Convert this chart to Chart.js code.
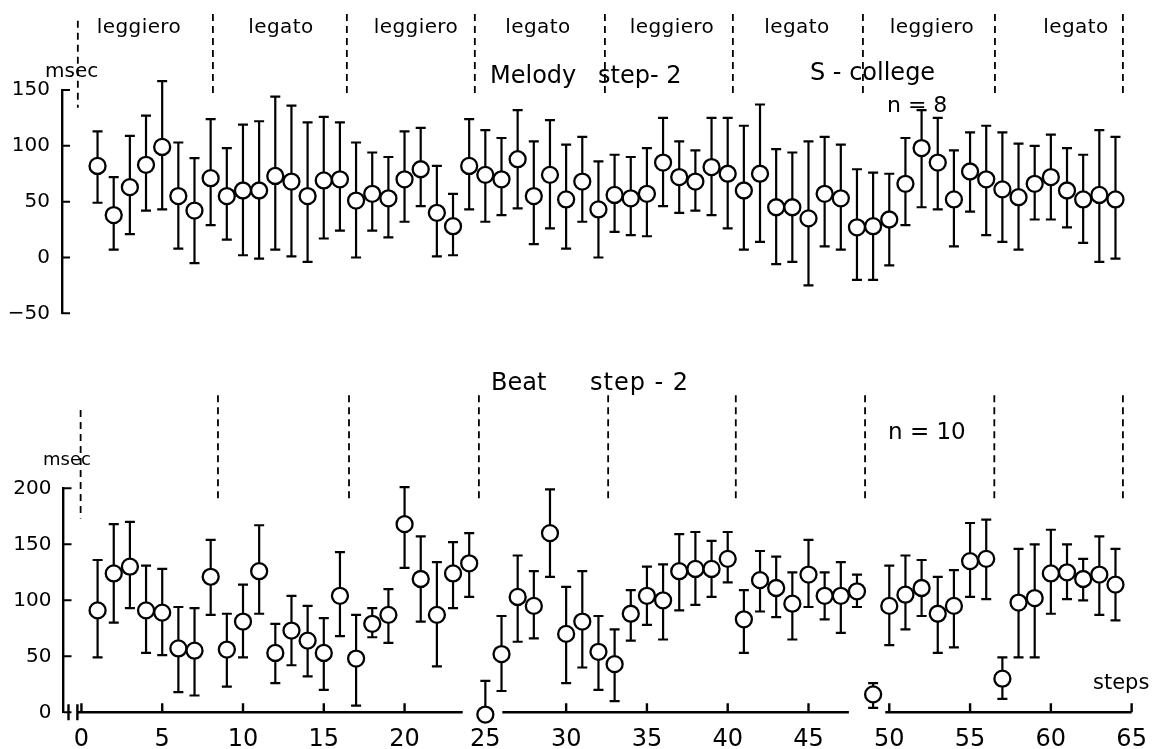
<!DOCTYPE html>
<html>
<head>
<meta charset="utf-8">
<script src="https://cdn.jsdelivr.net/npm/chart.js@4.4.0/dist/chart.umd.min.js"></script>
<style>
  body { margin: 0; background: #fff; width: 1161px; height: 749px; overflow: hidden; position: relative;
         font-family: "DejaVu Sans", sans-serif; color: #000; }
  canvas { position: absolute; left: 0; }
  #top { top: 0; }
  #bottom { top: 345px; }
  .t { position: absolute; white-space: pre; line-height: 1; }
  .c { transform: translateX(-50%); letter-spacing: 0.4px; }
</style>
</head>
<body>
<canvas id="top" width="1161" height="345"></canvas>
<canvas id="bottom" width="1161" height="404"></canvas>

<!-- section labels -->
<div class="t c" style="left:139px;top:16px;font-size:20px">leggiero</div>
<div class="t c" style="left:281px;top:16px;font-size:20px">legato</div>
<div class="t c" style="left:416px;top:16px;font-size:20px">leggiero</div>
<div class="t c" style="left:538px;top:16px;font-size:20px">legato</div>
<div class="t c" style="left:672px;top:16px;font-size:20px">leggiero</div>
<div class="t c" style="left:797px;top:16px;font-size:20px">legato</div>
<div class="t c" style="left:932px;top:16px;font-size:20px">leggiero</div>
<div class="t c" style="left:1076px;top:16px;font-size:20px">legato</div>

<div class="t" style="left:45px;top:60px;font-size:20px">msec</div>
<div class="t" style="left:490px;top:63px;font-size:24px">Melody</div>
<div class="t" style="left:598px;top:63px;font-size:24px">step- 2</div>
<div class="t" style="left:810px;top:60px;font-size:24px">S - college</div>
<div class="t" style="left:887px;top:94px;font-size:22px">n = 8</div>

<div class="t" style="left:43px;top:450px;font-size:18px">msec</div>
<div class="t" style="left:491px;top:370px;font-size:24px">Beat</div>
<div class="t" style="left:590px;top:370px;font-size:24px;letter-spacing:1px">step - 2</div>
<div class="t" style="left:888px;top:420px;font-size:23px">n = 10</div>
<div class="t" style="left:1093px;top:672px;font-size:21px">steps</div>

<script>
// steps (x categories)
const steps = [1,2,3,4,5,6,7,8,9,10,11,12,13,14,15,16,17,18,19,20,21,22,23,24,25,26,27,28,29,30,31,32,
  33,34,35,36,37,38,39,40,41,42,43,44,45,46,47,48,49,50,51,52,53,54,55,56,57,58,59,60,61,62,63,64];

// Melody step-2 (msec): mean, upper and lower end of the bar
const melodyMean = [82,38,63,83,99,55,42,71,55,60,60,73,68,55,69,70,51,57,53,70,79,40,28,82,74,70,88,55,74,52,68,43,
  56,53,57,85,72,68,81,75,60,75,45,45,35,57,53,27,28,34,66,98,85,52,77,70,61,54,66,72,60,52,56,52];
const melodyHigh = [113,72,109,127,158,103,89,124,98,119,122,144,136,121,126,121,103,94,90,113,116,82,57,124,114,107,132,104,123,101,108,86,
  92,90,98,125,104,96,125,125,118,137,97,94,104,108,101,79,76,75,107,132,125,96,112,118,112,102,100,110,98,92,114,108];
const melodyLow = [49,7,21,42,43,8,-5,29,16,2,-1,7,1,-4,17,24,0,24,18,32,46,1,2,43,32,38,44,12,26,8,32,0,
  23,20,19,46,40,42,38,26,7,14,-6,-4,-25,10,7,-20,-20,-7,29,45,43,10,41,20,14,7,34,34,27,13,-4,-1];

// Beat step-2 (msec)
const beatMean = [91,124,130,91,89,57,55,121,56,81,126,53,73,64,53,104,48,79,87,168,119,87,124,133,-2,52,103,95,160,70,81,54,
  43,88,104,100,126,128,128,137,83,118,111,97,123,104,104,108,16,95,105,111,88,95,135,137,30,98,102,124,125,119,123,114];
const beatHigh = [136,168,170,131,128,94,93,154,88,114,167,79,104,95,84,143,87,93,110,201,157,134,152,160,28,86,140,126,199,112,126,86,
  74,109,130,132,159,161,153,161,109,144,139,125,154,125,134,123,26,131,140,136,121,127,169,172,49,146,150,163,150,137,157,146];
const beatLow = [49,80,93,53,51,18,15,87,23,49,88,26,42,32,20,68,6,67,62,129,81,41,93,103,null,19,63,66,121,26,40,20,
  10,64,78,65,91,96,103,116,53,90,85,65,94,83,71,94,4,60,74,86,53,58,103,101,12,49,49,88,101,100,87,82];

// tick labels
const melodyTicks = [-50, 0, 50, 100, 150];
const beatTicks = [0, 50, 100, 150, 200];
const stepTicks = [0, 5, 10, 15, 20, 25, 30, 35, 40, 45, 50, 55, 60, 65];

// dashed section dividers (in steps)
const melodyDividers = [-0.22, 8.14, 16.43, 24.35, 32.4, 40.32, 48.37, 56.54, 64.46];
const beatDividers = [-0.05, 8.45, 16.56, 24.6, 32.6, 40.5, 48.5, 56.5, 64.46];
// the bottom step axis is drawn in broken pieces
const axisPieces = [[-0.2, 23.6], [26.05, 47.5], [49.75, 65]];

Chart.defaults.font.family = '"DejaVu Sans", sans-serif';
Chart.defaults.color = '#000';

const errorBars = {
  id: 'errorBars',
  beforeDatasetsDraw(chart, args, opts) {
    const { ctx, scales: { x, y } } = chart;
    ctx.save();
    ctx.strokeStyle = '#000';
    ctx.lineWidth = 2.2;
    opts.high.forEach((hi, i) => {
      const px = x.getPixelForValue(steps[i]);
      const top = y.getPixelForValue(hi);
      const lo = opts.low[i];
      const bot = y.getPixelForValue(lo == null ? opts.mean[i] : lo);
      ctx.beginPath();
      ctx.moveTo(px, top); ctx.lineTo(px, bot);
      ctx.moveTo(px - 5, top); ctx.lineTo(px + 5, top);
      if (lo != null) { ctx.moveTo(px - 5, bot); ctx.lineTo(px + 5, bot); }
      ctx.stroke();
    });
    ctx.restore();
  }
};

const frame = {
  id: 'frame',
  afterDraw(chart, args, opts) {
    const { ctx, chartArea, scales: { x, y } } = chart;
    ctx.save();
    ctx.strokeStyle = '#000';
    // small ticks pointing into the plot
    ctx.lineWidth = 2;
    ctx.beginPath();
    opts.yTicks.forEach(v => {
      const py = y.getPixelForValue(v);
      ctx.moveTo(chartArea.left, py); ctx.lineTo(chartArea.left + 8, py);
    });
    ctx.stroke();
    // dashed dividers
    ctx.lineWidth = 1.8;
    ctx.setLineDash([7, 5]);
    ctx.beginPath();
    opts.dividers.forEach((d, i) => {
      const px = x.getPixelForValue(d);
      ctx.moveTo(px, y.getPixelForValue(i === 0 ? opts.firstFrom : opts.from));
      ctx.lineTo(px, y.getPixelForValue(i === 0 ? opts.firstTo : opts.to));
    });
    ctx.stroke();
    ctx.setLineDash([]);
    // broken step axis
    if (opts.pieces) {
      const py = y.getPixelForValue(0);
      ctx.lineWidth = 2.4;
      ctx.beginPath();
      opts.pieces.forEach(([a, b]) => {
        ctx.moveTo(x.getPixelForValue(a), py); ctx.lineTo(x.getPixelForValue(b), py);
      });
      stepTicks.forEach(t => {
        if (opts.pieces.some(([a, b]) => t > a && t <= b)) {
          const px = x.getPixelForValue(t);
          ctx.moveTo(px, py); ctx.lineTo(px, py - 9);
        }
      });
      [-0.8, -0.25].forEach(b => {
        const px = x.getPixelForValue(b);
        ctx.moveTo(px, py - 8); ctx.lineTo(px, py + 8);
      });
      ctx.stroke();
    }
    ctx.restore();
  }
};

function points(mean) {
  return steps.map((s, i) => ({ x: s, y: mean[i] }));
}

function dataset(mean) {
  return {
    data: points(mean),
    showLine: false,
    pointRadius: 8,
    pointBorderWidth: 2.3,
    pointBackgroundColor: '#fff',
    pointBorderColor: '#000',
    clip: false
  };
}

function yScale(min, max, ticks, width, fmt) {
  return {
    min: min, max: max,
    afterFit(s) { s.width = width; },
    afterBuildTicks(s) { s.ticks = ticks.map(v => ({ value: v })); },
    ticks: { font: { size: 20 }, padding: 12, color: '#000', callback: fmt },
    grid: { display: true, drawOnChartArea: false, drawTicks: false },
    border: { display: true, color: '#000', width: 2.4 }
  };
}

// 1. Melody panel
new Chart(document.getElementById('top'), {
  type: 'scatter',
  data: { datasets: [dataset(melodyMean)] },
  options: {
    responsive: false,
    animation: false,
    layout: { padding: { top: 90, bottom: 31.7, left: 0, right: 13.2 } },
    plugins: {
      legend: { display: false },
      tooltip: { enabled: false },
      errorBars: { mean: melodyMean, high: melodyHigh, low: melodyLow },
      frame: { yTicks: melodyTicks, dividers: melodyDividers, from: 218, to: 146, firstFrom: 212, firstTo: 134 }
    },
    scales: {
      x: { type: 'linear', display: false, min: -1.2, max: 66 },
      y: yScale(-50, 150, melodyTicks, 62, v => v < 0 ? '\u2212' + Math.abs(v) : String(v))
    }
  },
  plugins: [errorBars, frame]
});

// 2. Beat panel
new Chart(document.getElementById('bottom'), {
  type: 'scatter',
  data: { datasets: [dataset(beatMean)] },
  options: {
    responsive: false,
    animation: false,
    layout: { padding: { top: 143.3, bottom: 0, left: 0, right: 13.2 } },
    plugins: {
      legend: { display: false },
      tooltip: { enabled: false },
      errorBars: { mean: beatMean, high: beatHigh, low: beatLow },
      frame: { yTicks: beatTicks, dividers: beatDividers, from: 283, to: 188, firstFrom: 270, firstTo: 173, pieces: axisPieces }
    },
    scales: {
      x: {
        type: 'linear', min: -1.11, max: 66,
        afterFit(s) { s.height = 36.7; },
        afterBuildTicks(s) { s.ticks = stepTicks.map(v => ({ value: v })); },
        ticks: { font: { size: 24 }, padding: 5, color: '#000', maxRotation: 0, autoSkip: false },
        grid: { display: false },
        border: { display: false }
      },
      y: yScale(0, 200, beatTicks, 63.5, v => String(v))
    }
  },
  plugins: [errorBars, frame]
});
</script>
</body>
</html>
